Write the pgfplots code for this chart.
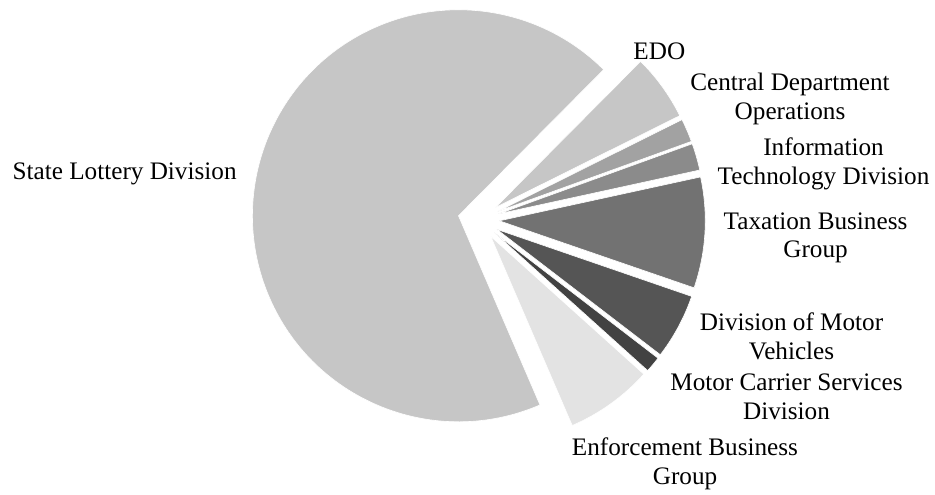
\documentclass[border=0pt]{standalone}
\usepackage{pgfplots}
\usepackage{pgfplotstable}
\pgfplotsset{compat=1.18}
\usetikzlibrary{calc}
\usepackage{fontspec}
\setmainfont{Liberation Serif}

\definecolor{c0}{HTML}{C6C6C6}
\definecolor{c1}{HTML}{A2A2A2}
\definecolor{c2}{HTML}{8B8B8B}
\definecolor{c3}{HTML}{727272}
\definecolor{c4}{HTML}{555555}
\definecolor{c5}{HTML}{424242}
\definecolor{c6}{HTML}{E3E3E3}
\definecolor{c7}{HTML}{C6C6C6}

% shares (percent), clockwise from the top-right
\pgfplotstableread{
idx value
0   5.20
1   1.83
2   2.11
3   8.69
4   5.14
5   1.25
6   6.86
7   68.92
}\datatable

\begin{document}
\begin{tikzpicture}
\def\cur{45.2}
\pgfplotsforeachungrouped \i in {0,...,7}{%
  \pgfplotstablegetelem{\i}{value}\of\datatable
  \pgfmathsetmacro\nxt{\cur-3.6*\pgfplotsretval}%
  \pgfmathsetmacro\md{(\cur+\nxt)/2}%
  \expandafter\xdef\csname sa\i\endcsname{\cur}%
  \expandafter\xdef\csname ea\i\endcsname{\nxt}%
  \expandafter\xdef\csname ma\i\endcsname{\md}%
  \xdef\cur{\nxt}%
}
\begin{axis}[name=ax, hide axis, scale only axis, width=467.5pt, height=247pt,
  xmin=0, xmax=935, ymin=0, ymax=494, clip=false]
\pgfplotsinvokeforeach{0,...,7}{
  \fill[c#1, draw=white, line width=0.3pt]
    ($(axis cs:478.7,274.4)+(\csname ma#1\endcsname:10.3pt)$)
    -- ++(\csname sa#1\endcsname:103pt)
    arc[start angle=\csname sa#1\endcsname, end angle=\csname ea#1\endcsname, radius=103pt]
    -- cycle;
}
\begin{scope}[font=\fontsize{12.6}{14.3}\selectfont]
\node[anchor=east, inner sep=0pt] at (axis cs:237,320) {State Lottery Division};
\node[anchor=west, inner sep=0pt] at (axis cs:633,443) {EDO};
\node[align=center, inner sep=0pt] at (axis cs:790,395) {Central Department\\Operations};
\node[align=center, inner sep=0pt] at (axis cs:823.5,330) {Information\\Technology Division};
\node[align=center, inner sep=0pt] at (axis cs:815.5,256) {Taxation Business\\Group};
\node[align=center, inner sep=0pt] at (axis cs:791.5,157.5) {Division of Motor\\Vehicles};
\node[align=center, inner sep=0pt] at (axis cs:786.5,97.5) {Motor Carrier Services\\Division};
\node[align=center, inner sep=0pt] at (axis cs:685,30) {Enforcement Business\\Group};
\end{scope}
\end{axis}
\pgfresetboundingbox
\path (ax.south west) rectangle (ax.north east);
\end{tikzpicture}
\end{document}
